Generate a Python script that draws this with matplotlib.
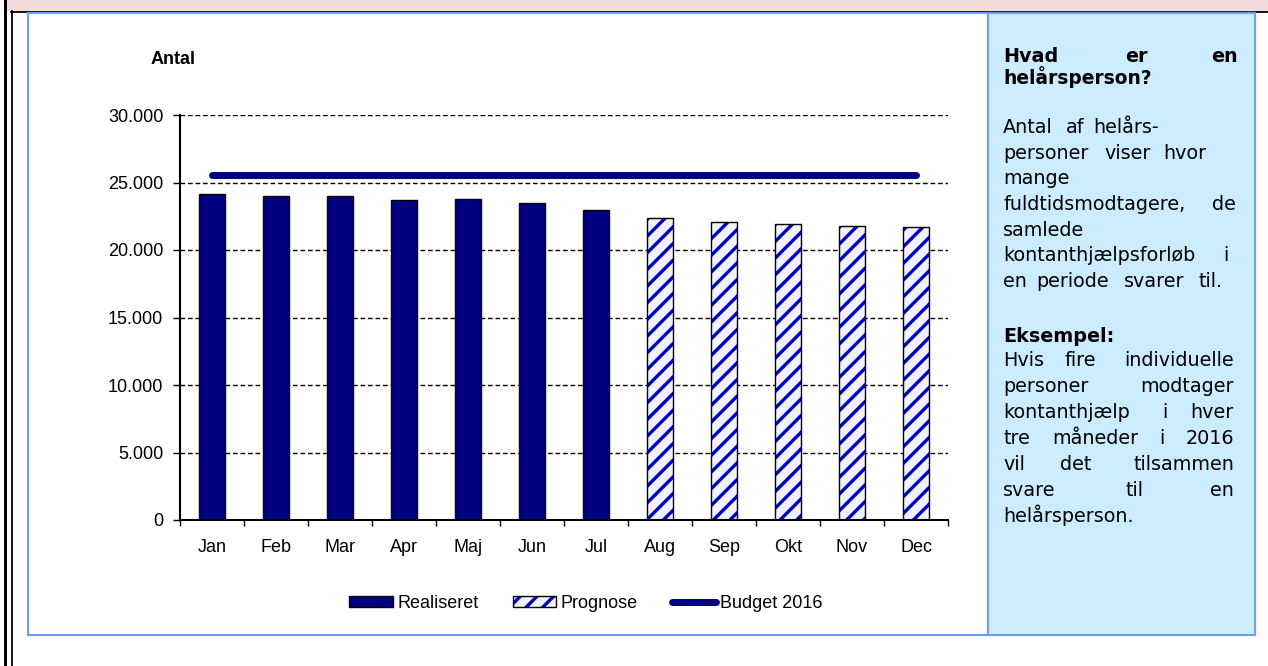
import matplotlib
matplotlib.use('Agg')
import numpy as np
import matplotlib.pyplot as plt
from matplotlib.patches import Rectangle, Patch
from matplotlib.lines import Line2D
from matplotlib.legend_handler import HandlerTuple
from matplotlib.font_manager import FontProperties
from matplotlib.ticker import FuncFormatter

# ---------------- data ----------------
months = ["Jan", "Feb", "Mar", "Apr", "Maj", "Jun", "Jul",
          "Aug", "Sep", "Okt", "Nov", "Dec"]
realiseret_months = ["Jan", "Feb", "Mar", "Apr", "Maj", "Jun", "Jul"]
realiseret = [24150, 24000, 24000, 23730, 23750, 23500, 23000]
prognose_months = ["Aug", "Sep", "Okt", "Nov", "Dec"]
prognose = [22350, 22100, 21950, 21800, 21680]
budget_2016 = [25550, 25550, 25550, 25550, 25550, 25550,
               25550, 25550, 25550, 25550, 25550, 25550]
y_ticks = [0, 5000, 10000, 15000, 20000, 25000, 30000]
legend_labels = ["Realiseret", "Prognose", "Budget 2016"]
y_label = "Antal"

panel_title = ["Hvad er en", "helårsperson?"]
panel_para1 = ["Antal af helårs-", "personer viser hvor", "mange",
               "fuldtidsmodtagere, de", "samlede",
               "kontanthjælpsforløb i", "en periode svarer til."]
panel_example_head = "Eksempel:"
panel_para2 = ["Hvis fire individuelle", "personer modtager",
               "kontanthjælp i hver", "tre måneder i 2016",
               "vil det tilsammen", "svare til en", "helårsperson."]

# ---------------- style ----------------
W, H = 1268, 666
plt.rcParams['font.family'] = ['Liberation Sans', 'DejaVu Sans']
plt.rcParams['hatch.linewidth'] = 2.4

NAVY = '#000080'
HATCH_BLUE = '#0000C0'
BORDER_BLUE = '#6E9CF7'
PANEL_BLUE = '#CCECFF'
PINK = '#F2DCDB'
FS = 13


def fx(x):
    return x / W


def fy(y):
    return 1 - y / H


fig = plt.figure(figsize=(W / 100, H / 100), dpi=100)
fig.patch.set_facecolor('white')

# ---------------- page decorations ----------------
fig.add_artist(Rectangle((fx(4), 0), 3 / W, 1, transform=fig.transFigure,
                         facecolor='black', edgecolor='none', zorder=0))
fig.add_artist(Rectangle((fx(7), fy(11)), (W - 7) / W, 11 / H,
                         transform=fig.transFigure, facecolor=PINK,
                         edgecolor='none', zorder=0))
fig.add_artist(Line2D([fx(11.8), fx(11.8)], [0, fy(11)], transform=fig.transFigure,
                      color='black', lw=1.3, zorder=0))
fig.add_artist(Line2D([fx(11), 1], [fy(11.8), fy(11.8)], transform=fig.transFigure,
                      color='black', lw=1.3, zorder=0))
# outer blue frame
fig.add_artist(Rectangle((fx(28), fy(635)), (1255 - 28) / W, (635 - 13) / H,
                         transform=fig.transFigure, facecolor='none',
                         edgecolor=BORDER_BLUE, lw=1.5, zorder=0))
# right info panel
fig.add_artist(Rectangle((fx(988), fy(635)), (1255 - 988) / W, (635 - 13) / H,
                         transform=fig.transFigure, facecolor=PANEL_BLUE,
                         edgecolor=BORDER_BLUE, lw=1.5, zorder=0))

# ---------------- chart ----------------
ax = fig.add_axes([fx(180), fy(520), 768 / W, 405 / H])
ax.patch.set_alpha(0)

xpos = {m: i for i, m in enumerate(months)}
x_all = np.arange(len(months))
x_real = [xpos[m] for m in realiseret_months]
x_prog = [xpos[m] for m in prognose_months]

bw = 0.42
ax.bar(x_real, realiseret, width=bw, color=NAVY, edgecolor='black',
       linewidth=1.0, zorder=3)
ax.bar(x_prog, prognose, width=bw, color='#F0F0FF', edgecolor=HATCH_BLUE,
       hatch='//', linewidth=0, zorder=3)
ax.bar(x_prog, prognose, width=bw, fill=False, edgecolor='black',
       linewidth=1.0, zorder=4)
ax.plot(x_all, budget_2016, color=NAVY, lw=5, solid_capstyle='round', zorder=5)

ax.set_xlim(-0.5, len(months) - 0.5)
ax.set_ylim(y_ticks[0], y_ticks[-1])

for v in y_ticks[1:]:
    ax.axhline(v, color='black', lw=1.0, ls=(0, (3.4, 2)), zorder=1)

for s in ['top', 'right']:
    ax.spines[s].set_visible(False)
for s in ['left', 'bottom']:
    ax.spines[s].set_linewidth(1.5)
    ax.spines[s].set_color('black')
    ax.spines[s].set_zorder(6)

ax.set_yticks(y_ticks)
ax.yaxis.set_major_formatter(FuncFormatter(lambda v, p: f"{v:,.0f}".replace(',', '.')))
ax.tick_params(axis='y', length=5, width=1, pad=7, labelsize=FS, direction='out')

ax.set_xticks(x_all, months)
ax.tick_params(axis='x', which='major', length=0, pad=14, labelsize=FS)
ax.set_xticks(np.arange(-0.5, len(months), 1), minor=True)
ax.tick_params(axis='x', which='minor', length=4, width=1, direction='out')

fig.text(fx(173), fy(60), y_label, ha='center', va='center',
         fontsize=FS, fontweight='bold')

# ---------------- legend ----------------
handles = [
    Patch(facecolor=NAVY, edgecolor='black', lw=1),
    (Patch(facecolor='#F0F0FF', edgecolor=HATCH_BLUE, hatch='//', lw=0),
     Patch(fill=False, edgecolor='black', lw=1)),
    Line2D([], [], color=NAVY, lw=5, solid_capstyle='round'),
]
fig.legend(handles, legend_labels, loc='center',
           bbox_to_anchor=(fx(586), fy(603)), ncol=3, frameon=False,
           handlelength=2.4, handleheight=0.55, handletextpad=0.25,
           columnspacing=1.9, fontsize=FS,
           handler_map={tuple: HandlerTuple(ndivide=1)})

# ---------------- info panel text ----------------
renderer = fig.canvas.get_renderer()
LEFT = 1003
PANEL_FAMILY = ['DejaVu Sans']


def text_w(s, fp):
    w, h, d = renderer.get_text_width_height_descent(s, fp, ismath=False)
    return w


def draw_line(text, baseline, bold=False, justify=False, right=1236,
              size=13.8, track=1.1):
    fp = FontProperties(family=PANEL_FAMILY, size=size,
                        weight='bold' if bold else 'normal')
    words = text.split(' ')
    nat = [text_w(w, fp) for w in words]
    tw = [n + track * (len(w) - 1) for n, w in zip(nat, words)]
    gap = 0.318 * size * 100 / 72 + 2 * track
    if justify and len(words) > 1:
        gap = (right - LEFT - sum(tw)) / (len(words) - 1)
    x = LEFT
    n = len(words)
    for i, (w, t) in enumerate(zip(words, tw)):
        if justify and n > 1 and i == n - 1:
            fig.text(fx(right), fy(baseline), w, ha='right', va='baseline',
                     fontproperties=fp)
        elif justify and n > 2 and 0 < i < n - 1:
            fig.text(fx(x + t / 2), fy(baseline), w, ha='center', va='baseline',
                     fontproperties=fp)
        else:
            fig.text(fx(x), fy(baseline), w, ha='left', va='baseline',
                     fontproperties=fp)
        x += t + gap


draw_line(panel_title[0], 62.5, bold=True, justify=True, right=1238)
draw_line(panel_title[1], 83.5, bold=True, size=13.4, track=0.9)

b = 133.0
for line in panel_para1:
    draw_line(line, b)
    b += 25.7

draw_line(panel_example_head, 341.5, bold=True)
b = 365.7
for i, line in enumerate(panel_para2):
    draw_line(line, b, justify=(i < len(panel_para2) - 1), right=1234)
    b += 26.1

fig.savefig('out.png', dpi=100)
